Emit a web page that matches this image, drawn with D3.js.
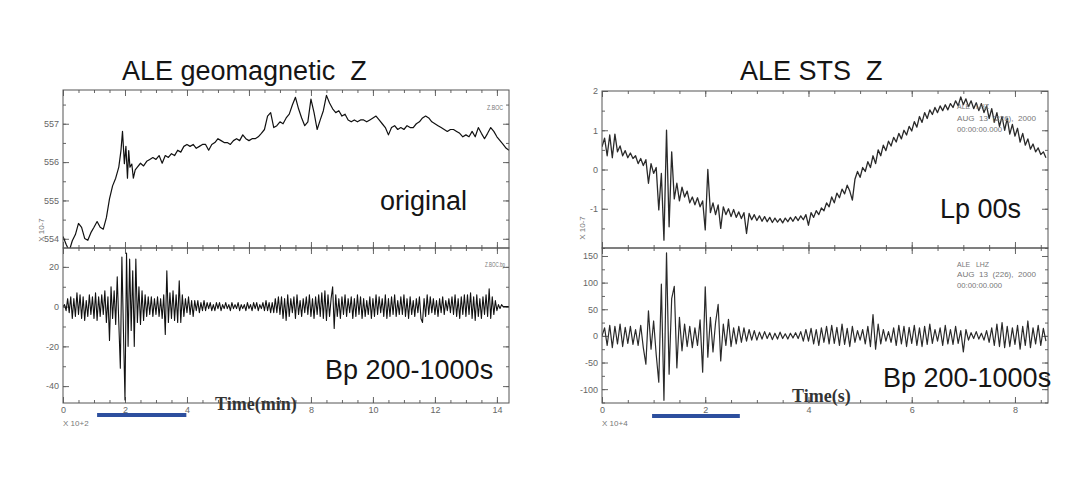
<!DOCTYPE html>
<html><head><meta charset="utf-8">
<script src="https://cdn.jsdelivr.net/npm/d3@7/dist/d3.min.js"></script>
<style>body{margin:0;background:#fff}svg{display:block}text{white-space:pre}</style>
</head><body><svg id="c" width="1071" height="477"></svg>
<script>
// ---- Left panel: ALE geomagnetic Z (time in units of 10^2 min) ----
const geoTime = [0,0.1,0.2,0.3,0.4,0.5,0.6,0.7,0.8,0.9,1.0,1.1,1.2,1.3,1.4,1.5,1.6,1.7,1.8,1.87,1.92,1.98,2.03,2.08,2.12,2.16,2.22,2.27,2.33,2.4,2.5,2.6,2.7,2.8,2.9,3.0,3.1,3.2,3.3,3.4,3.5,3.6,3.7,3.8,3.9,4.0,4.1,4.2,4.3,4.4,4.5,4.6,4.7,4.8,4.9,5.0,5.1,5.2,5.3,5.4,5.5,5.6,5.7,5.8,5.9,6.0,6.1,6.2,6.3,6.4,6.5,6.6,6.7,6.8,6.9,7.0,7.1,7.2,7.3,7.4,7.5,7.6,7.7,7.8,7.9,8.0,8.1,8.2,8.3,8.4,8.5,8.6,8.7,8.8,8.9,9.0,9.1,9.2,9.3,9.4,9.5,9.6,9.7,9.8,9.9,10.0,10.1,10.2,10.3,10.4,10.5,10.6,10.7,10.8,10.9,11.0,11.1,11.2,11.3,11.4,11.5,11.6,11.7,11.8,11.9,12.0,12.1,12.2,12.3,12.4,12.5,12.6,12.7,12.8,12.9,13.0,13.1,13.2,13.3,13.4,13.5,13.6,13.7,13.8,13.9,14.0,14.1,14.2,14.3,14.39];
const geoOriginal = [554.06,553.86,553.68,553.95,554.11,554.40,554.30,554.01,553.96,554.16,554.30,554.45,554.30,554.25,554.55,555.04,555.38,555.58,555.87,556.30,556.80,555.96,556.41,555.58,556.30,555.87,555.95,555.58,555.80,555.87,555.97,555.90,556.02,556.07,556.12,556.07,556.17,555.97,556.17,556.12,556.22,556.17,556.31,556.26,556.41,556.46,556.41,556.46,556.36,556.41,556.46,556.46,556.31,556.46,556.51,556.61,556.56,556.51,556.51,556.46,556.56,556.61,556.56,556.71,556.61,556.56,556.61,556.61,556.66,556.75,556.85,557.20,557.29,556.90,556.95,557.05,557.00,557.15,557.25,557.49,557.69,557.39,557.15,556.95,557.05,557.64,557.29,556.85,557.10,557.34,557.74,557.54,557.39,557.29,557.34,557.20,557.25,557.10,557.05,557.10,557.05,557.10,557.10,557.05,557.10,557.15,557.20,557.10,557.00,556.90,556.71,556.90,556.95,556.85,556.90,556.85,556.95,556.90,556.90,557.00,557.05,557.15,557.20,557.15,557.05,557.00,556.95,556.90,556.85,556.80,556.85,556.85,556.80,556.75,556.66,556.71,556.66,556.80,556.66,556.90,556.75,556.61,556.75,556.90,556.80,556.66,556.56,556.46,556.36,556.31];
const geoBpStep = 0.05;
const geoBandpass = [0,1,-2,4,-3,5,-6,4,-5,7,-4,6,-6,5,-7,3,-5,6,-4,5,
 -6,7,-7,5,-5,6,-4,8,-8,5,-17,10,-6,8,-9,15,-8,-31,25,-12,
 -47,27,-20,24,-12,18,-20,24,-8,10,-9,8,-7,6,-5,5,-4,5,-5,4,
 -4,5,-5,4,-6,6,-14,18,-8,7,-6,8,-7,6,-8,13,-8,6,-5,4,
 -3,5,-4,3,-5,3,-2,3,-3,2,-2,3,-2,2,-1,2,-2,1,-2,2,
 -1,2,-2,1,-1,2,-1,1,-2,2,-1,1,-1,2,-2,1,-1,1,-2,2,
 -1,1,-2,2,-1,2,-2,1,-1,2,-2,3,-2,2,-3,2,-3,4,-3,5,
 -4,5,-6,4,-7,6,-5,4,-3,5,-6,6,-4,3,-5,4,-3,5,-4,6,
 -5,4,-6,5,-4,6,-5,7,-6,8,-7,6,-5,4,10,-11,6,-5,4,-6,
 5,-4,6,-5,4,-3,5,-6,4,-5,6,-4,5,-6,4,-5,3,-4,5,-6,
 4,-5,6,-4,5,-3,4,-5,6,-6,4,-5,5,-4,6,-5,3,-4,5,-4,
 6,-5,4,-6,5,-4,3,-5,4,-3,5,-6,-8,4,-5,6,-4,5,-3,4,
 -4,3,-5,4,-3,5,-4,3,-2,4,-3,5,-4,6,-5,4,-6,5,-4,6,
 -5,6,-4,7,-6,5,-7,6,-5,4,-6,5,-4,6,-5,9,-6,5,-4,3,
 -2,1,-1,1,0,0,0,0,0];
// ---- Right panel: ALE STS Z (time in units of 10^4 s) ----
const stsStep = 0.05;
const stsLowpass = [0.58,0.80,0.35,0.88,0.30,0.90,0.45,0.60,0.35,0.48,0.30,0.42,0.28,0.35,0.15,0.28,0.10,0.25,-0.35,0.15,
 -0.10,0.05,-1.03,-0.10,-1.80,1.00,-1.46,0.45,-0.75,-0.35,-0.80,-0.45,-0.70,-0.55,-0.85,-0.70,-0.90,-0.72,-0.95,-0.80,
 -1.54,0.00,-1.10,-0.85,-1.15,-0.90,-1.50,-0.95,-1.15,-1.00,-1.20,-1.02,-1.22,-1.08,-1.25,-1.10,-1.63,-1.12,-1.28,-1.15,
 -1.30,-1.18,-1.32,-1.20,-1.33,-1.22,-1.35,-1.24,-1.34,-1.25,-1.36,-1.24,-1.33,-1.22,-1.32,-1.20,-1.30,-1.18,-1.28,-1.15,
 -1.42,-1.10,-1.22,-1.05,-1.15,-0.98,-1.05,-0.85,-0.95,-0.70,-0.85,-0.60,-0.72,-0.50,-0.62,-0.40,-0.55,-0.78,-0.25,-0.05,
 -0.20,0.05,-0.05,0.20,0.05,0.35,0.15,0.50,0.35,0.62,0.48,0.72,0.60,0.82,0.70,0.92,0.78,1.00,0.88,1.10,
 0.98,1.22,1.08,1.35,1.20,1.45,1.30,1.52,1.40,1.58,1.45,1.62,1.50,1.65,1.52,1.68,1.58,1.75,1.62,1.85,
 1.65,1.80,1.60,1.75,1.55,1.70,1.50,1.68,1.45,1.62,1.30,1.55,1.20,1.45,1.10,1.35,1.00,1.30,0.90,1.15,
 0.85,1.05,0.70,0.92,0.62,0.78,0.52,0.65,0.45,0.55,0.38,0.45,0.30];
const stsBandpass = [0,15,-18,20,-22,18,-15,22,-20,16,-14,18,-16,12,-18,20,-22,-53,47,-25,
 28,-35,-87,97,-121,156,-72,70,93,-60,35,-28,22,-20,18,-22,15,-18,30,-68,
 92,-40,35,-30,25,59,-47,22,-18,31,-20,15,-15,18,-12,15,-10,12,-8,10,
 -8,7,-6,8,-5,6,-7,5,-6,7,-5,4,-6,5,-4,6,-5,8,-10,12,
 -10,14,-15,12,-18,15,-12,18,-15,20,-14,16,-18,22,-16,14,-20,18,-12,10,
 -8,12,-15,18,-20,40,-25,22,-15,12,-10,8,-12,15,-18,20,-15,18,-20,16,
 -14,20,-18,15,-20,18,-16,22,-14,12,-10,15,-18,20,-15,12,-16,18,-14,10,
 -30,12,-8,6,-5,8,-6,5,-8,10,-12,15,-18,22,-20,25,-22,18,-20,15,
 -16,20,-25,18,-18,28,-22,15,-15,20,-18,14,-10];
// ---- axis ticks ----
const geoXTicks = [0,2,4,6,8,10,12,14];
const geoXHidden = [6];            // covered by the "Time(min)" label in the reference
const geoTopYTicks = [554,555,556,557];
const geoBotYTicks = [-40,-20,0,20];
const stsXTicks = [0,2,4,6,8];
const stsTopYTicks = [-1,0,1,2];
const stsBotYTicks = [-100,-50,0,50,100,150];

const svg = d3.select('#c');
const FONT = "'Liberation Sans', Arial, sans-serif";
const TOP = 90, MID = 248, BOT = 403;

function minorVals(dom, step){
  const a = Math.ceil(dom[0]/step - 1e-9)*step;
  return d3.range(a, dom[1]+1e-9, step);
}
function axes(g, x, y, xMajor, xMinor, yMajor, yMinor, showX, hidden=[]){
  const [x0,x1] = x.range(); const [yb,yt] = y.range();
  const tickCol = '#666';
  const mk = (ax, tr) => {
    const s = g.append('g').attr('transform', tr).call(ax);
    s.select('.domain').remove();
    s.selectAll('line').attr('stroke', tickCol);
    s.selectAll('text').attr('fill','#666').attr('font-family',FONT).attr('font-size',9);
    return s;
  };
  const mv = minorVals(x.domain(), xMinor);
  const yv = minorVals(y.domain(), yMinor);
  mk(d3.axisBottom(x).tickValues(mv).tickSize(-3).tickFormat(''), `translate(0,${yb})`);
  mk(d3.axisTop(x).tickValues(mv).tickSize(-3).tickFormat(''), `translate(0,${yt})`);
  mk(d3.axisLeft(y).tickValues(yv).tickSize(-3).tickFormat(''), `translate(${x0},0)`);
  mk(d3.axisRight(y).tickValues(yv).tickSize(-3).tickFormat(''), `translate(${x1},0)`);
  mk(d3.axisBottom(x).tickValues(xMajor).tickSize(-6).tickPadding(4)
      .tickFormat(showX ? (d => hidden.includes(d) ? '' : String(d)) : ''), `translate(0,${yb})`);
  mk(d3.axisTop(x).tickValues(xMajor).tickSize(-6).tickFormat(''), `translate(0,${yt})`);
  mk(d3.axisLeft(y).tickValues(yMajor).tickSize(-6).tickPadding(4).tickFormat(d=>String(d)), `translate(${x0},0)`);
  mk(d3.axisRight(y).tickValues(yMajor).tickSize(-6).tickFormat(''), `translate(${x1},0)`);
}
let clipId = 0;
function trace(g, x, y, xs, ys, color, w){
  const [x0,x1] = x.range(); const [yb,yt] = y.range();
  const id = 'clip' + (clipId++);
  svg.append('clipPath').attr('id', id).append('rect')
    .attr('x', x0).attr('y', yt).attr('width', x1-x0).attr('height', yb-yt);
  const line = d3.line().x((d,i)=>x(xs[i])).y(d=>y(d));
  g.append('path').datum(ys).attr('d', line).attr('fill','none')
    .attr('stroke', color).attr('stroke-width', w).attr('stroke-linejoin','round')
    .attr('clip-path', `url(#${id})`);
}
function frame(g, x, y){
  const [x0,x1] = x.range(); const [yb,yt] = y.range();
  g.append('rect').attr('x',x0).attr('y',yt).attr('width',x1-x0).attr('height',yb-yt)
    .attr('fill','none').attr('stroke','#555').attr('stroke-width',1);
}
function txt(x, y, s, size, opts={}){
  const t = svg.append('text').attr('x',x).attr('y',y).text(s)
    .attr('font-family', opts.family || FONT).attr('font-size', size)
    .attr('fill', opts.fill || '#151515');
  if (opts.weight) t.attr('font-weight', opts.weight);
  if (opts.anchor) t.attr('text-anchor', opts.anchor);
  if (opts.len) t.attr('textLength', opts.len).attr('lengthAdjust','spacingAndGlyphs');
  if (opts.rotate) t.attr('transform', `rotate(${opts.rotate},${x},${y})`);
  return t;
}

// ===== Left panel =====
const gx = d3.scaleLinear().domain([0,14.39]).range([63,509]);
const gyTop = d3.scaleLinear().domain([553.76,557.88]).range([MID,TOP]);
const gyBot = d3.scaleLinear().domain([-48.5,29.5]).range([BOT,MID]);
const gL = svg.append('g');
axes(gL, gx, gyTop, geoXTicks, 0.5, geoTopYTicks, 0.5, false);
axes(gL, gx, gyBot, geoXTicks, 0.5, geoBotYTicks, 10, true, geoXHidden);
trace(gL, gx, gyTop, geoTime, geoOriginal, '#111', 1.2);
const geoBpTime = geoBandpass.map((d,i)=>i*geoBpStep);
trace(gL, gx, gyBot, geoBpTime, geoBandpass, '#111', 1.1);
frame(gL, gx, gyTop); frame(gL, gx, gyBot);

// ===== Right panel =====
const sx = d3.scaleLinear().domain([0,8.64]).range([602,1048]);
const syTop = d3.scaleLinear().domain([-2,2]).range([MID,TOP+1]);
const syBot = d3.scaleLinear().domain([-126,165]).range([BOT,MID]);
const gR = svg.append('g');
axes(gR, sx, syTop, stsXTicks, 0.5, stsTopYTicks, 0.5, false);
axes(gR, sx, syBot, stsXTicks, 0.5, stsBotYTicks, 25, true);
txt(957, 109, 'ALE   LHZ', 8, {fill:'#777', len:32});
txt(957, 121, 'AUG  13  (226),  2000', 8, {fill:'#777', len:79});
txt(957, 132, '00:00:00.000', 8, {fill:'#777', len:45});
txt(957, 267, 'ALE   LHZ', 8, {fill:'#777', len:32});
txt(957, 277, 'AUG  13  (226),  2000', 8, {fill:'#777', len:79});
txt(957, 288, '00:00:00.000', 8, {fill:'#777', len:45});
const stsTime = stsLowpass.map((d,i)=>i*stsStep);
trace(gR, sx, syTop, stsTime, stsLowpass, '#2a2a2a', 1.3);
const stsBpTime = stsBandpass.map((d,i)=>i*stsStep);
trace(gR, sx, syBot, stsBpTime, stsBandpass, '#2a2a2a', 1.2);
frame(gR, sx, syTop); frame(gR, sx, syBot);

txt(487, 110, 'Z.BOC', 7, {fill:'#777', len:16});
txt(485, 267, 'Z.BOC.bp', 7, {fill:'#777', len:20});

txt(44, 230, 'X 10-7', 8, {fill:'#777', rotate:-90, anchor:'middle'});
txt(585, 228, 'X 10-7', 8, {fill:'#777', rotate:-90, anchor:'middle'});
txt(63, 426, 'X 10+2', 8, {fill:'#777'});
txt(602, 426, 'X 10+4', 8, {fill:'#777'});

// titles
txt(122, 80, 'ALE geomagnetic  Z', 27);
txt(740, 80, 'ALE STS  Z', 27);

// big labels
txt(380, 210, 'original', 27);
txt(325, 379, 'Bp 200-1000s', 27);
txt(940, 218, 'Lp 00s', 27);
txt(883, 387, 'Bp 200-1000s', 27);

txt(215, 410, 'Time(min)', 18, {family:"'Liberation Serif', 'Times New Roman', serif", weight:'bold', fill:'#333'});
txt(792, 402, 'Time(s)', 18, {family:"'Liberation Serif', 'Times New Roman', serif", weight:'bold', fill:'#333'});

// blue duration bars
const geoBar = [1.1, 3.98];
const stsBar = [0.97, 2.67];
svg.append('rect').attr('x', gx(geoBar[0])).attr('y', 413).attr('width', gx(geoBar[1])-gx(geoBar[0])).attr('height', 4).attr('fill', '#2d4f9e');
svg.append('rect').attr('x', sx(stsBar[0])).attr('y', 414).attr('width', sx(stsBar[1])-sx(stsBar[0])).attr('height', 4).attr('fill', '#2d4f9e');
</script></body></html>
